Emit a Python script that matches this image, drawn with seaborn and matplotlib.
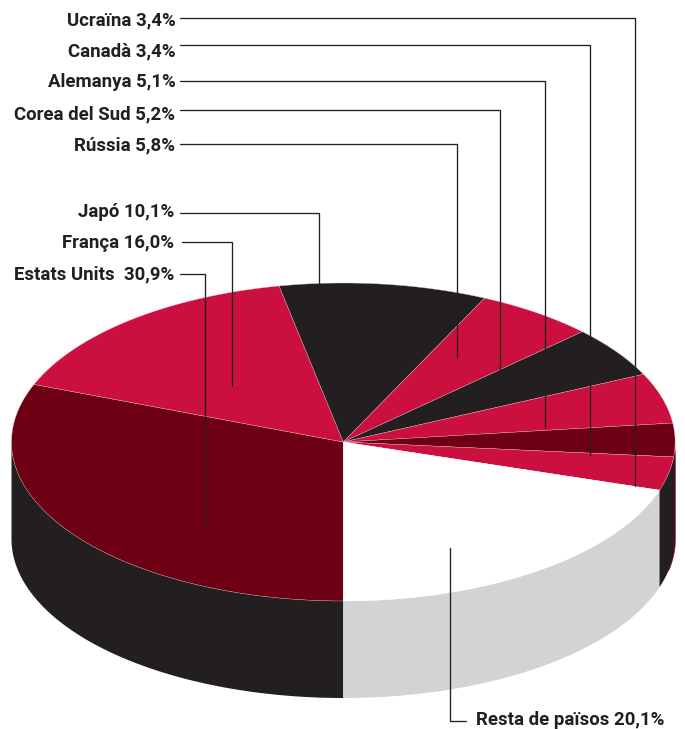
import numpy as np
import pandas as pd
import matplotlib
matplotlib.use("Agg")
import matplotlib.pyplot as plt
import seaborn as sns

countries = ["Estats Units", "França", "Japó", "Rússia", "Corea del Sud",
             "Alemanya", "Canadà", "Ucraïna", "Resta de països"]
shares = [30.9, 16.0, 10.1, 5.8, 5.2, 5.1, 3.4, 3.4, 20.1]
label_texts = ["Estats Units  30,9%", "França 16,0%", "Japó 10,1%", "Rússia 5,8%",
               "Corea del Sud 5,2%", "Alemanya 5,1%", "Canadà 3,4%", "Ucraïna 3,4%",
               "Resta de països 20,1%"]

CRIMSON, MAROON, INK, WHITE, GREY = "#CB0F3F", "#6D0013", "#231F20", "#FFFFFF", "#D1D3D4"
top_colors = [MAROON, CRIMSON, INK, CRIMSON, INK, CRIMSON, MAROON, CRIMSON, WHITE]

sns.set_style("white")
plt.rcParams["font.family"] = ["Roboto", "DejaVu Sans"]

table = pd.DataFrame({"country": countries, "share": shares, "label": label_texts, "color": top_colors})
# Slices run clockwise from the front of the disc.
table["end"] = 270 - table["share"].cumsum() * 3.6
table["start"] = table["end"] + table["share"] * 3.6

CX, CY, RX, RY, DEPTH = 343.3, 442.0, 331.8, 159.0, 97.0
FONT_SIZE = 13.4


def rim(a, b, n=160, grow=0.0):
    t = np.radians(np.linspace(a, b, n))
    return CX + (RX + grow) * np.cos(t), CY - RY * np.sin(t)


def wall(ax, a, b, color, grow=0.0):
    x, y = rim(a, b, grow=grow)
    ax.fill(np.r_[x, x[::-1]], np.r_[y, y[::-1] + DEPTH], color=color, lw=0, zorder=1)


fig, ax = plt.subplots(figsize=(6.85, 7.29), dpi=100)
ax.set_position([0, 0, 1, 1])
ax.set_xlim(0, 685)
ax.set_ylim(729, 0)
ax.axis("off")

# Visible outer wall: dark everywhere except under the last slice.
last = table.iloc[-1]
wall(ax, 180, 270, INK)
wall(ax, -12, 0, CRIMSON, grow=0.7)
wall(ax, last["end"], last["start"], GREY)
wall(ax, last["start"], 0, INK)

for row in table.itertuples():
    x, y = rim(row.start, row.end)
    edge = WHITE if row.color == WHITE else "#E8B9C2"
    ax.fill(np.r_[CX, x], np.r_[CY, y], facecolor=row.color, edgecolor=edge, lw=0.25, zorder=2)

# country: text right edge, text baseline, line y, line start x, line drop x, line end y
leaders = {
    "Ucraïna": (175.5, 25, 18, 180, 635, 486),
    "Canadà": (175.5, 56, 45, 180, 590, 455),
    "Alemanya": (175.5, 87, 81, 180, 545, 427),
    "Corea del Sud": (175.5, 119, 110, 180, 500, 370),
    "Rússia": (175.5, 150, 144, 180, 457, 358),
    "Japó": (174, 217, 213, 180, 319, 285),
    "França": (174, 248, 242, 182, 232, 386),
    "Estats Units": (174, 279, 273.5, 180, 205, 528),
}
for row in table.itertuples():
    if row.country in leaders:
        tx, base, ly, x0, xv, yend = leaders[row.country]
        ax.plot([x0, xv, xv], [ly, ly, yend], color=INK, lw=0.95, zorder=3, solid_joinstyle="miter")
        ax.text(tx, base, row.label, ha="right", va="baseline", fontsize=FONT_SIZE,
                fontweight="bold", color=INK, zorder=4)

ax.plot([450, 450, 466], [548, 721, 721], color=INK, lw=0.95, zorder=3, solid_joinstyle="miter")
ax.text(476, 725, last["label"], ha="left", va="baseline", fontsize=FONT_SIZE,
        fontweight="bold", color=INK, zorder=4)

fig.savefig("out.png", dpi=100)
